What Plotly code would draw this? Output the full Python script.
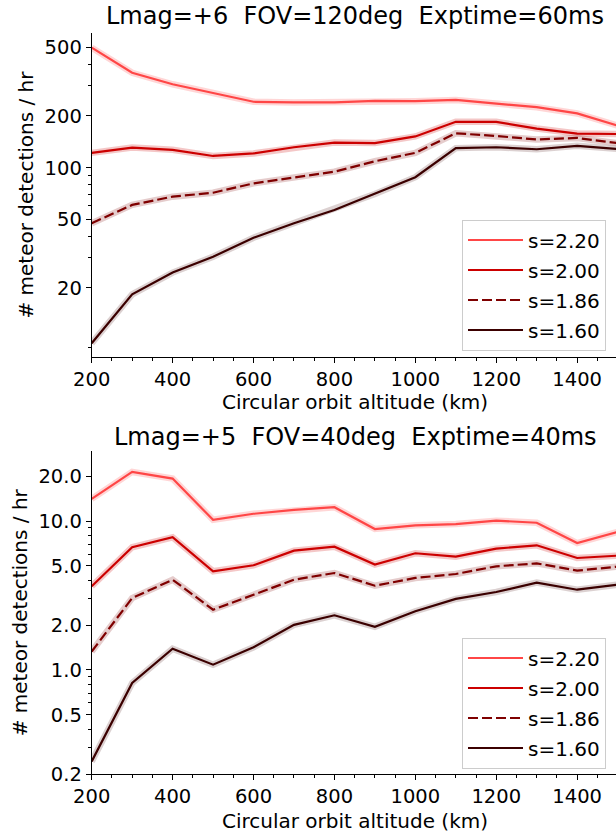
import plotly.graph_objects as go

# ---------------- data ----------------
altitude_km = [200, 300, 400, 500, 600, 700, 800, 900, 1000, 1100, 1200, 1300, 1400, 1500]
series_labels = ["s=2.20", "s=2.00", "s=1.86", "s=1.60"]

# Panel 1: Lmag=+6  FOV=120deg  Exptime=60ms
top_s220 = [500, 357, 306, 271, 242, 240, 240, 245, 244, 248, 237, 225, 207, 176]
top_s200 = [122, 131, 127, 117, 121, 131.5, 140, 139, 152, 185, 185, 169, 158, 157]
top_s186 = [47.5, 60.7, 67.8, 71.5, 81, 88, 94.8, 109, 122, 158.6, 153, 146, 149, 139]
top_s160 = [9.5, 18.3, 24.5, 30.3, 39.1, 47.5, 56.7, 70.3, 88, 130, 131.5, 128, 134, 128.5]

# Panel 2: Lmag=+5  FOV=40deg  Exptime=40ms
bot_s220 = [14.1, 21.4, 19.3, 10.2, 11.2, 11.9, 12.4, 8.85, 9.37, 9.55, 10.07, 9.75, 7.12, 8.45]
bot_s200 = [3.65, 6.67, 7.79, 4.6, 5.05, 6.33, 6.73, 5.1, 6.08, 5.77, 6.53, 6.88, 5.65, 5.86]
bot_s186 = [1.33, 3.04, 4.04, 2.54, 3.2, 4.04, 4.48, 3.68, 4.15, 4.41, 4.97, 5.2, 4.65, 4.94]
bot_s160 = [0.243, 0.817, 1.39, 1.085, 1.42, 2.01, 2.33, 1.95, 2.48, 3.0, 3.34, 3.86, 3.46, 3.74]

top_title = "Lmag=+6\u00a0\u00a0FOV=120deg\u00a0\u00a0Exptime=60ms"
bot_title = "Lmag=+5\u00a0\u00a0FOV=40deg\u00a0\u00a0Exptime=40ms"
x_title = "Circular orbit altitude (km)"
y_title = "# meteor detections / hr"

top_ticks = [20, 50, 100, 200, 500]
top_minor = [9, 30, 40, 60, 70, 80, 90, 300, 400]
bot_ticks = [0.2, 0.5, 1.0, 2.0, 5.0, 10.0, 20.0]
bot_ticklabels = ["0.2", "0.5", "1.0", "2.0", "5.0", "10.0", "20.0"]
bot_minor = [0.3, 0.4, 0.6, 0.7, 0.8, 0.9, 3, 4, 6, 7, 8, 9]

# ---------------- styles ----------------
colors = ["#ff4646", "#cc0000", "#7f0000", "#3b0000"]
halos = ["rgba(255,70,70,0.22)", "rgba(204,0,0,0.22)", "rgba(127,0,0,0.2)", "rgba(59,0,0,0.18)"]
dashes = ["solid", "solid", "10px,4px", "solid"]

W, H = 616, 833
FONT = "DejaVu Sans"

fig = go.Figure()

def add_panel(values, xa, ya, legend):
    for i, (lab, vals) in enumerate(zip(series_labels, values)):
        fig.add_trace(go.Scatter(x=altitude_km, y=vals, mode="lines", xaxis=xa, yaxis=ya,
                                 line=dict(color=halos[i], width=6.5), showlegend=False,
                                 hoverinfo="skip"))
        fig.add_trace(go.Scatter(x=altitude_km, y=vals, mode="lines", xaxis=xa, yaxis=ya,
                                 name=lab, legend=legend, legendgroup=legend + lab,
                                 line=dict(color=colors[i], width=2.2, dash=dashes[i])))

add_panel([top_s220, top_s200, top_s186, top_s160], "x", "y", "legend")
add_panel([bot_s220, bot_s200, bot_s186, bot_s160], "x2", "y2", "legend2")

x0 = 91.7 / W
top_dom = [(H - 356.5) / H, (H - 32.7) / H]
bot_dom = [(H - 774.0) / H, (H - 450.7) / H]
xrange_ = [200, 1496]

tickfont = dict(family=FONT, size=19.5, color="black")

def xaxis_cfg(anchor):
    return dict(domain=[x0, 1], range=xrange_, anchor=anchor, showline=True, linecolor="black",
                linewidth=1, ticks="outside", ticklen=5, tickwidth=1, tickcolor="black",
                tick0=200, dtick=200, showgrid=False, zeroline=False, tickfont=tickfont,
                automargin=False,
                minor=dict(ticks="outside", ticklen=3, tickwidth=1, tickcolor="black", dtick=50,
                           showgrid=False))

def xtop_cfg(anchor, over):
    return dict(domain=[x0, 1], range=xrange_, anchor=anchor, overlaying=over, side="top",
                showline=True, linecolor="black", linewidth=1, ticks="inside", ticklen=5,
                tickwidth=1, tickcolor="black", tick0=200, dtick=200, showticklabels=False,
                showgrid=False, zeroline=False, automargin=False)

def yaxis_cfg(anchor, dom, rng, tv, tt, minor):
    return dict(domain=dom, type="log", range=rng, anchor=anchor, showline=True,
                linecolor="black", linewidth=1, ticks="outside", ticklen=5, tickwidth=1,
                tickcolor="black", tickmode="array", tickvals=tv, ticktext=tt,
                showgrid=False, zeroline=False, tickfont=tickfont, automargin=False,
                minor=dict(ticks="outside", ticklen=3, tickwidth=1, tickcolor="black",
                           tickmode="array", tickvals=minor, showgrid=False))

legend_common = dict(font=dict(family=FONT, size=20, color="black"), bgcolor="rgba(255,255,255,0.85)",
                     bordercolor="#cccccc", borderwidth=1, xanchor="left", yanchor="top",
                     tracegroupgap=1, itemwidth=55)

fig.update_layout(
    template="none",
    width=W, height=H, margin=dict(l=0, r=0, t=0, b=0, autoexpand=False),
    paper_bgcolor="white", plot_bgcolor="white",
    font=dict(family=FONT, color="black"),
    xaxis=xaxis_cfg("y"),
    xaxis2=xaxis_cfg("y2"),
    xaxis3=xtop_cfg("y", "x"),
    xaxis4=xtop_cfg("y2", "x2"),
    yaxis=yaxis_cfg("x", top_dom, [0.9005, 2.786], top_ticks, [str(v) for v in top_ticks], top_minor),
    yaxis2=yaxis_cfg("x2", bot_dom, [-0.699, 1.473], bot_ticks, bot_ticklabels, bot_minor),
    legend=dict(x=462 / W, y=(H - 219.5) / H, **legend_common),
    legend2=dict(x=462 / W, y=(H - 637.5) / H, **legend_common),
    showlegend=True,
)

def ann(text, xpx, ypx, size, angle=0):
    fig.add_annotation(text=text, x=xpx / W, y=(H - ypx) / H, xref="paper", yref="paper",
                       showarrow=False, xanchor="center", yanchor="middle", textangle=angle,
                       font=dict(family=FONT, size=size, color="black"))

ann(top_title, 355, 16, 24)
ann(bot_title, 355, 437, 24)
ann(x_title, 355, 402, 20)
ann(x_title, 355, 821, 20)
ann(y_title, 26, 194.6, 20, -90)
ann(y_title, 20, 612.3, 20, -90)

fig.write_html("out.html")
